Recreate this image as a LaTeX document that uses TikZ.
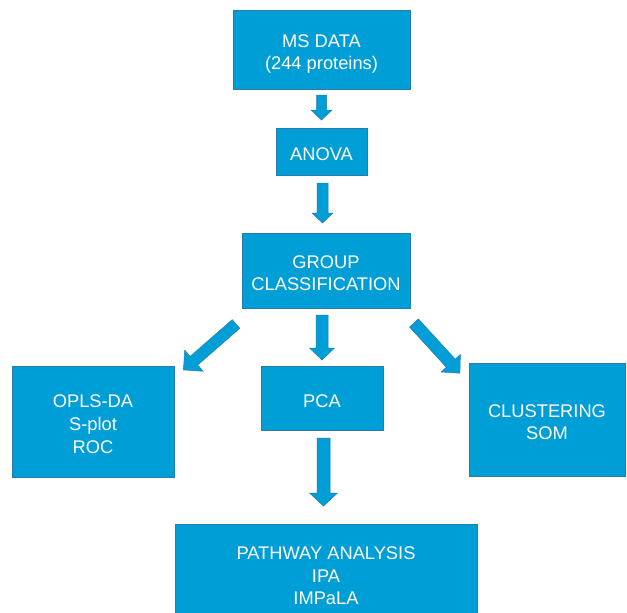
\documentclass[tikz,border=0pt]{standalone}
\usepackage{fontspec}
\setmainfont{Liberation Sans}
\usetikzlibrary{calc}
\definecolor{boxfill}{RGB}{0,158,214}
\definecolor{boxline}{RGB}{35,125,175}
% block arrow: start, end, shaft half width, head half width, head length
\newcommand\blockarrow[5]{%
  \filldraw[arrowbody] let \p1=(#1), \p2=(#2),
    \n1={atan2(\y2-\y1,\x2-\x1)}, \n2={veclen(\x2-\x1,\y2-\y1)} in
    [shift={(\p1)}, rotate=\n1]
    (0,#3) -- (\n2-#5,#3) -- (\n2-#5,#4) -- (\n2,0) -- (\n2-#5,-#4)
    -- (\n2-#5,-#3) -- (0,-#3) -- cycle;}
\newcommand\boxtext[1]{\raisebox{-4.5pt}[\height][\depth]{\begin{tabular}{@{}c@{}}#1\end{tabular}}}
\begin{document}
\begin{tikzpicture}[x=1pt,y=-1pt,
  box/.style={rectangle, draw=boxline, line width=0.7pt, fill=boxfill,
    text=white, inner sep=0pt,
    font=\fontsize{18.3}{22.7}\selectfont},
  arrowbody/.style={draw=boxline, line width=0.5pt, fill=boxfill}]
\clip (0,0) rectangle (627,613);
\fill[white] (0,0) rectangle (627,613);

\node[box, minimum width=177pt, minimum height=79pt] (ms) at (321.5,49.5) {\boxtext{MS DATA\\(244 proteins)}};
\node[box, minimum width=91pt, minimum height=47pt] (anova) at (321.5,151.5) {\boxtext{ANOVA}};
\node[box, minimum width=168pt, minimum height=75pt] (group) at (326,270.5) {\boxtext{GROUP\\CLASSIFICATION}};
\node[box, minimum width=122pt, minimum height=64pt] (pca) at (322,398) {\boxtext{PCA}};
\node[box, minimum width=162pt, minimum height=111pt] (opls) at (93,421.5) {\boxtext{OPLS-DA\\S-plot\\ROC}};
\node[box, minimum width=156pt, minimum height=113pt] (clus) at (547,419.5) {\boxtext{CLUSTERING\\SOM}};
\node[box, minimum width=302pt, minimum height=98pt] (path) at (326,573) {\boxtext{PATHWAY ANALYSIS\\IPA\\IMPaLA}};

\coordinate (a1s) at (321.5,95);  \coordinate (a1e) at (321.5,120);
\coordinate (a2s) at (322.5,183); \coordinate (a2e) at (322.5,223);
\coordinate (acs) at (322,315);   \coordinate (ace) at (322,360);
\coordinate (als) at (236,324);   \coordinate (ale) at (183.3,370);
\coordinate (ars) at (414,323);   \coordinate (are) at (460,373.3);
\coordinate (aps) at (323.5,438); \coordinate (ape) at (323.5,506);

\blockarrow{a1s}{a1e}{5}{10.5}{10}
\blockarrow{a2s}{a2e}{5.5}{10.5}{10}
\blockarrow{acs}{ace}{6}{12.5}{12}
\blockarrow{als}{ale}{5.75}{14}{14}
\blockarrow{ars}{are}{6}{13}{13.5}
\blockarrow{aps}{ape}{6.5}{14}{13}
\end{tikzpicture}
\end{document}
